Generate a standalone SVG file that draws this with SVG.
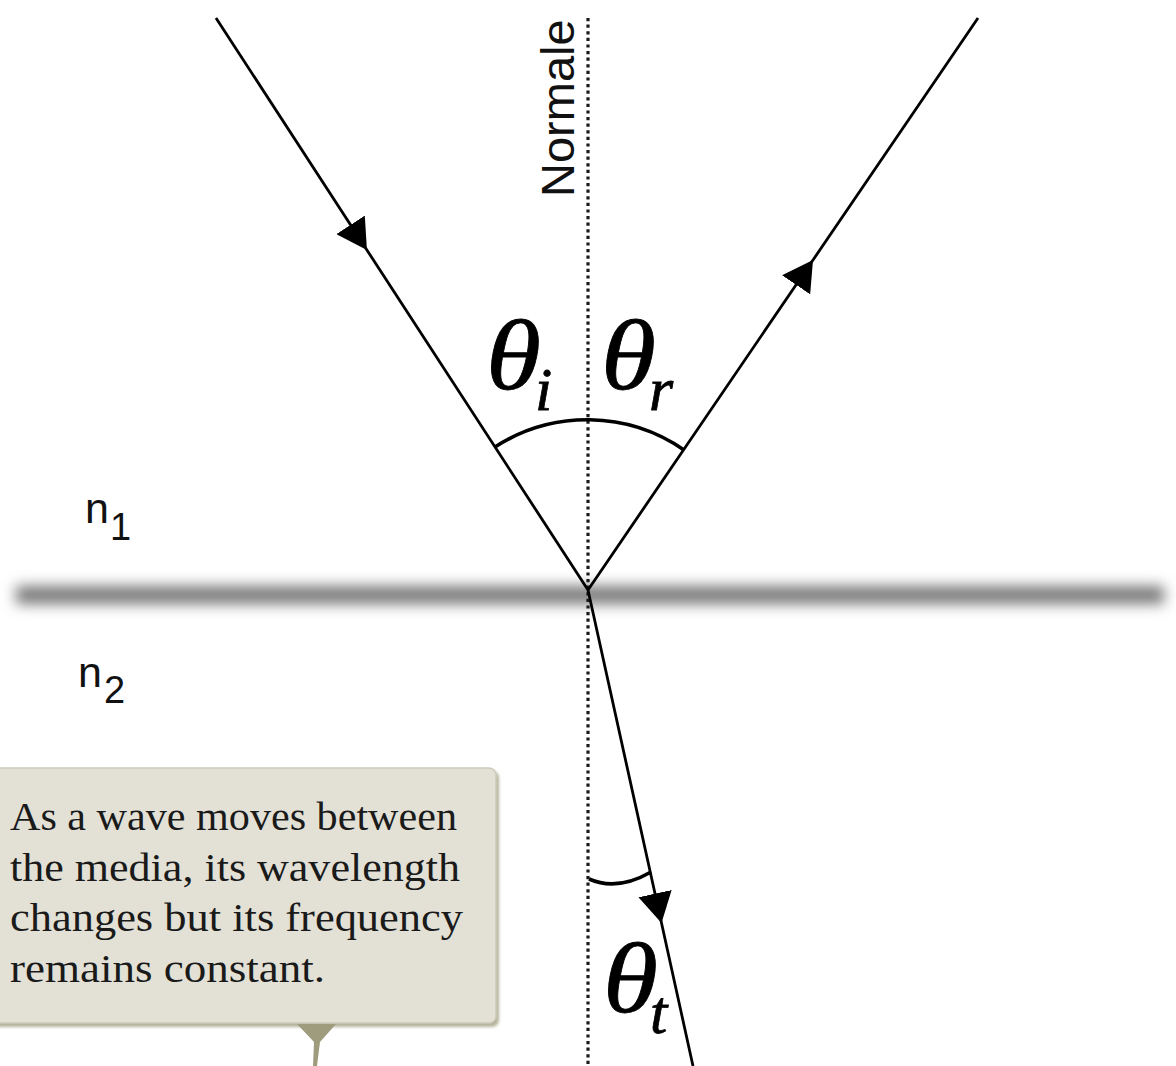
<svg xmlns="http://www.w3.org/2000/svg" width="1176" height="1066" viewBox="0 0 1176 1066">
<style>
.ray{fill:none;stroke:#000;stroke-width:2.8;marker-mid:url(#arr)}
.arc{fill:none;stroke:#000;stroke-width:3.6}
.theta{font-family:"Liberation Serif",serif;font-style:italic;fill:#000;stroke:#000;stroke-width:0.8}
.nlab{font-family:"Liberation Sans",sans-serif;fill:#111}
.cap{font-family:"Liberation Serif",serif;font-size:40px;fill:#1a1a1a}
</style>
<defs>
<marker id="arr" viewBox="0 0 30 34" refX="30" refY="17" markerWidth="30" markerHeight="34" markerUnits="userSpaceOnUse" orient="auto">
<path d="M0,0 L30,17 L0,34 Z" fill="#000"/>
</marker>
<filter id="blur" x="-5%" y="-400%" width="110%" height="900%">
<feGaussianBlur stdDeviation="7"/>
</filter>
<filter id="sh" x="-5%" y="-5%" width="110%" height="115%">
<feGaussianBlur stdDeviation="1.5"/>
</filter>
</defs>
<rect width="1176" height="1066" fill="#fff"/>

<g id="interface">
<rect x="16" y="586" width="1148" height="18" fill="#787878" filter="url(#blur)"/>
</g>

<g id="normal">
<line x1="588" y1="18" x2="588" y2="1066" stroke="#1a1a1a" stroke-width="3.2" stroke-dasharray="3.2 3.4"/>
<text class="nlab" font-size="47" transform="translate(574,197) rotate(-90)">Normale</text>
</g>

<g id="connectors">
<path id="incident" class="ray" d="M216,18 L366.9,250 L588,590"/>
<path id="reflected" class="ray" d="M588,590 L813,260 L978,18"/>
<path id="transmitted" class="ray" d="M588,590 L661.5,923 L693,1066"/>
</g>

<g id="angles">
<path class="arc" d="M495,447 A170,170 0 0 1 684,450"/>
<path class="arc" d="M589,879 C605,886 625,887 651,872"/>
</g>

<g id="label-theta-i">
<text class="theta" font-size="100" transform="translate(486,389) scale(1.12,1)">θ</text>
<text class="theta" x="535" y="410" font-size="62">i</text>
</g>
<g id="label-theta-r">
<text class="theta" font-size="100" transform="translate(601,389) scale(1.12,1)">θ</text>
<text class="theta" x="649" y="410" font-size="62">r</text>
</g>
<g id="label-theta-t">
<text class="theta" font-size="100" transform="translate(603,1012) scale(1.12,1)">θ</text>
<text class="theta" x="650" y="1033" font-size="62">t</text>
</g>

<g id="label-n1">
<text class="nlab" x="85" y="523" font-size="43">n</text>
<text class="nlab" x="110" y="540" font-size="38">1</text>
</g>
<g id="label-n2">
<text class="nlab" x="78" y="687" font-size="43">n</text>
<text class="nlab" x="104" y="703" font-size="38">2</text>
</g>

<g id="callout">
<rect x="-10" y="771" width="509" height="256" rx="7" fill="#b6b39c" filter="url(#sh)"/>
<rect x="-10" y="768" width="506" height="255" rx="7" fill="#e3e1d6" stroke="#cdcbbb" stroke-width="1.5"/>
<path d="M297,1024 L336,1024 L320,1042 L317,1066 L313,1066 L314,1042 Z" fill="#9f9c7e"/>
<text class="cap" x="10" y="830" textLength="447" lengthAdjust="spacingAndGlyphs">As a wave moves between</text>
<text class="cap" x="10" y="881" textLength="450" lengthAdjust="spacingAndGlyphs">the media, its wavelength</text>
<text class="cap" x="10" y="931" textLength="453" lengthAdjust="spacingAndGlyphs">changes but its frequency</text>
<text class="cap" x="10" y="982" textLength="315" lengthAdjust="spacingAndGlyphs">remains constant.</text>
</g>
</svg>
